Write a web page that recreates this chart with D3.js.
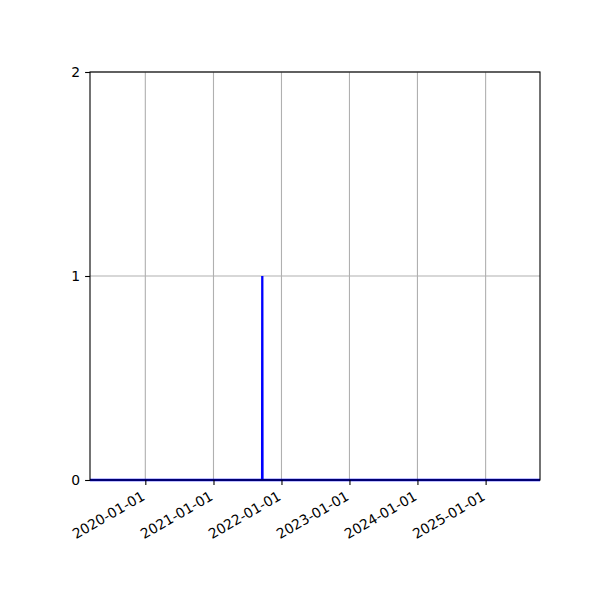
<!DOCTYPE html>
<html>
<head>
<meta charset="utf-8">
<script src="https://cdn.jsdelivr.net/npm/d3@7"></script>
<style>
  body { margin: 0; background: #fff; }
  text { font-family: "DejaVu Sans", sans-serif; }
</style>
</head>
<body>
<div id="chart"></div>
<script>
// data: one spike on an otherwise flat series
var dates = ["2019-03-10", "2021-09-19", "2021-09-20", "2021-09-21", "2025-10-20"];
var values = [0, 0, 1, 0, 0];
var yTicks = [0, 1, 2];
var xTicks = ["2020-01-01", "2021-01-01", "2022-01-01", "2023-01-01", "2024-01-01", "2025-01-01"];

var wide = 600;
var high = 600;
var leftX = 90, rightX = 540, topY = 72, bottomY = 480;

var parse = d3.utcParse("%Y-%m-%d");
var points = dates.map(function(d, i) {
  return { date: parse(d), value: values[i] };
});

var svg = d3.select("#chart")
  .append("svg")
  .attr("width", wide)
  .attr("height", high);

var xScale = d3.scaleUtc()
  .domain(d3.extent(points, function(d) { return d.date; }))
  .range([leftX, rightX]);
var yScale = d3.scaleLinear()
  .domain([0, 2])
  .range([bottomY, topY]);

// grid
svg.append("g")
  .selectAll("line.vgrid")
  .data(xTicks)
  .enter()
  .append("line")
  .attr("x1", function(d) { return xScale(parse(d)); })
  .attr("x2", function(d) { return xScale(parse(d)); })
  .attr("y1", topY)
  .attr("y2", bottomY)
  .attr("stroke", "#b0b0b0")
  .attr("stroke-width", 1.1);

svg.append("g")
  .selectAll("line.hgrid")
  .data(yTicks)
  .enter()
  .append("line")
  .attr("x1", leftX)
  .attr("x2", rightX)
  .attr("y1", function(d) { return yScale(d); })
  .attr("y2", function(d) { return yScale(d); })
  .attr("stroke", "#b0b0b0")
  .attr("stroke-width", 1.1);

// series
var line = d3.line()
  .x(function(d) { return xScale(d.date); })
  .y(function(d) { return yScale(d.value); });

svg.append("path")
  .datum(points)
  .attr("d", line)
  .attr("fill", "none")
  .attr("stroke", "#0000ff")
  .attr("stroke-width", 2.3);

// axes
var xAxis = d3.axisBottom(xScale)
  .tickValues(xTicks.map(parse))
  .tickFormat(d3.utcFormat("%Y-%m-%d"))
  .tickSize(4.9)
  .tickPadding(4.9);
var yAxis = d3.axisLeft(yScale)
  .tickValues(yTicks)
  .tickFormat(d3.format("d"))
  .tickSize(4.9)
  .tickPadding(4.9);

var gx = svg.append("g")
  .attr("transform", "translate(0," + bottomY + ")")
  .call(xAxis);
gx.select(".domain").remove();
gx.selectAll("line").attr("stroke", "#000").attr("stroke-width", 1.1);
gx.selectAll("text")
  .attr("font-size", 13.9)
  .attr("fill", "#000")
  .attr("text-anchor", "end")
  .attr("y", 0)
  .attr("dy", 0)
  .attr("transform", "translate(0,19) rotate(-30)");

var gy = svg.append("g")
  .attr("transform", "translate(" + leftX + ",0)")
  .call(yAxis);
gy.select(".domain").remove();
gy.selectAll("line").attr("stroke", "#000").attr("stroke-width", 1.1);
gy.selectAll("text")
  .attr("font-size", 13.9)
  .attr("fill", "#000");

// frame
svg.append("rect")
  .attr("x", leftX)
  .attr("y", topY)
  .attr("width", rightX - leftX)
  .attr("height", bottomY - topY)
  .attr("fill", "none")
  .attr("stroke", "#000")
  .attr("stroke-width", 1.1);
</script>
</body>
</html>
